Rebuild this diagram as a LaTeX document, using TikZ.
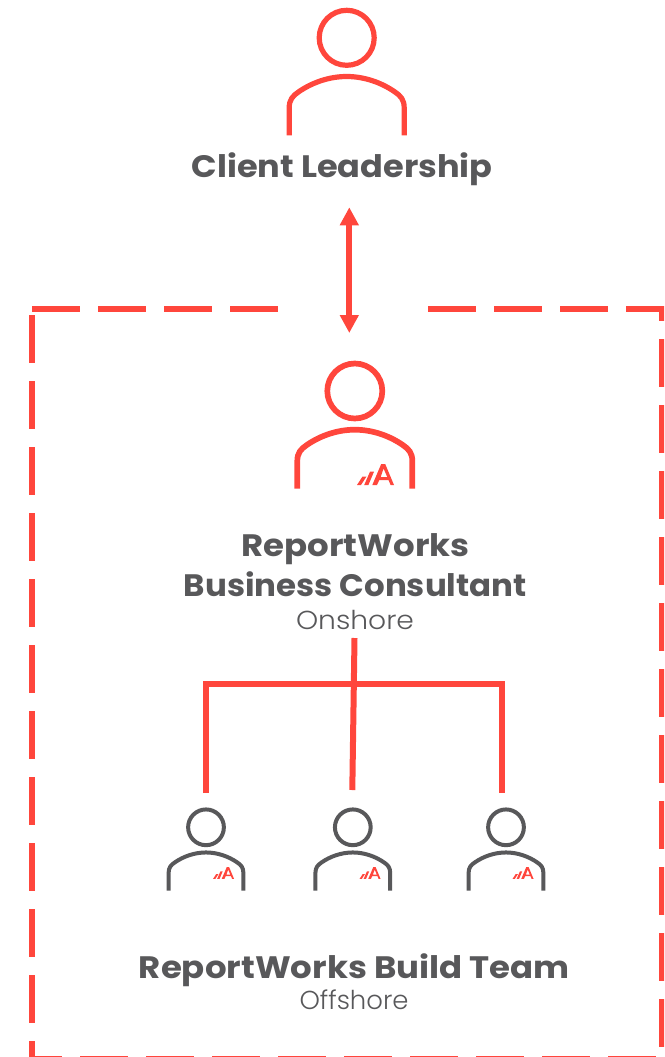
\documentclass[tikz,border=0pt]{standalone}
\usepackage{graphicx}
\usepackage{fontspec}
\usetikzlibrary{arrows.meta}
\newfontfamily\headfont{Poppins Bold}
\newfontfamily\subfont{Poppins Light}
\definecolor{rwred}{HTML}{FF463C}
\definecolor{rwgray}{HTML}{58585A}
\newcommand{\fitw}[2]{\resizebox{#1pt}{\height}{#2}}
\tikzset{
  head/.style={inner sep=0pt,outer sep=0pt,anchor=base,text=rwgray,font=\headfont\fontsize{31}{31}\selectfont},
  sub/.style={inner sep=0pt,outer sep=0pt,anchor=base,text=rwgray,font=\subfont\fontsize{26}{26}\selectfont},
  dashline/.style={draw=rwred,line width=6pt,dash pattern=on 48pt off 18pt},
  wire/.style={draw=rwred,line width=6pt},
  pics/person/.style n args={2}{code={
    \draw[draw=#1,line width=#2] (0,0) circle[radius=27.5];
    \draw[draw=#1,line width=#2]
      (-57.5,97.5) -- (-57.5,70)
      .. controls (-57.5,62) and (-54,58) .. (-48,54)
      .. controls (-35,45) and (-18,38.7) .. (0,38.7)
      .. controls (18,38.7) and (35,45) .. (48,54)
      .. controls (54,58) and (57.5,62) .. (57.5,70)
      -- (57.5,97.5);
  }},
  pics/rwlogo/.style={code={
    \fill[rwred] (0,21) -- (5.5,12.5) -- (9.5,12.5) -- (4,21) -- cycle;
    \fill[rwred] (7.2,21) -- (13,7.7) -- (17,7.7) -- (11.4,21) -- cycle;
    \fill[rwred,even odd rule]
      (15.3,21) -- (24.2,0) -- (28.2,0) -- (37,21) -- (33.6,21) -- (31.5,16) -- (22.3,16) -- (20,21) -- cycle
      (23.6,13.2) -- (30.3,13.2) -- (26.6,4.5) -- cycle;
  }},
}
\begin{document}
\begin{tikzpicture}[x=1pt,y=-1pt]
\useasboundingbox (0,0) rectangle (664,1057);
\clip (0,0) rectangle (664,1057);
% people
\pic (client) at (346.7,37.8) {person={rwred}{5.2pt}};
\pic (consultant) at (354.8,391) {person={rwred}{5.7pt}};
\pic[scale=.65] (teamA) at (206,827.3) {person={rwgray}{4pt}};
\pic[scale=.65] (teamB) at (352.8,827.3) {person={rwgray}{4pt}};
\pic[scale=.65] (teamC) at (506,827.3) {person={rwgray}{4pt}};
\pic (logoMain) at (357,464) {rwlogo};
\pic[scale=.57] (logoA) at (213,867) {rwlogo};
\pic[scale=.57] (logoB) at (359.5,867) {rwlogo};
\pic[scale=.57] (logoC) at (512.5,867) {rwlogo};
% labels
\node[head] (clientLabel) at (342.2,177.5) {\fitw{301}{Client Leadership}};
\node[head] (nameA) at (355.5,556.7) {\fitw{228}{ReportWorks}};
\node[head] (nameB) at (355.3,596) {\fitw{343}{Business Consultant}};
\node[sub] (onshore) at (355,629) {\fitw{118}{Onshore}};
\node[head] (teamLabel) at (354.4,978.3) {\fitw{431}{ReportWorks Build Team}};
\node[sub] (offshore) at (354,1009.3) {\fitw{109}{Offshore}};
% dashed frame
\coordinate (topL) at (32,309);
\coordinate (topLend) at (278,309);
\coordinate (topR) at (428,309);
\coordinate (topRend) at (664,309);
\coordinate (leftT) at (32,315);
\coordinate (leftB) at (32,1057);
\coordinate (rightT) at (662,306);
\coordinate (rightB) at (662,1057);
\coordinate (botL) at (32,1059);
\coordinate (botR) at (664,1059);
\draw[dashline] (topL) -- (topLend);
\draw[dashline] (topR) -- (topRend);
\draw[dashline] (leftT) -- (leftB);
\draw[dashline,dash phase=33pt] (rightT) -- (rightB);
\draw[dashline,dash phase=18pt] (botL) -- (botR);
% arrow
\coordinate (arrowTop) at (349.3,207.3);
\coordinate (arrowBot) at (349.3,333);
\draw[draw=rwred,fill=rwred,line width=6pt,{Triangle[length=18pt,width=18pt]}-{Triangle[length=18pt,width=18pt]}] (arrowTop) -- (arrowBot);
% tree
\coordinate (stemTop) at (354.5,638);
\coordinate (stemBot) at (352.3,790);
\coordinate (barL) at (205.7,683.5);
\coordinate (barR) at (502.3,683.5);
\coordinate (footL) at (205.7,793);
\coordinate (footR) at (502.3,793);
\draw[wire] (stemTop) -- (stemBot);
\draw[wire,line join=miter] (footL) -- (barL) -- (barR) -- (footR);
\end{tikzpicture}
\end{document}
